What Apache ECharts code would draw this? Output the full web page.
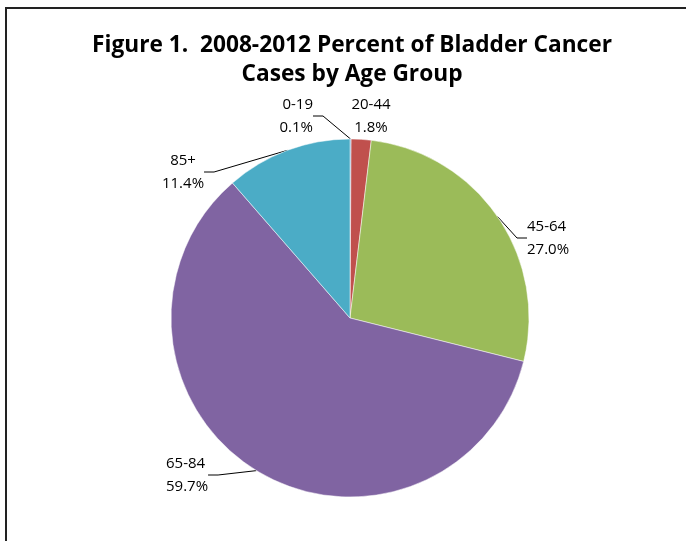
<!DOCTYPE html>
<html>
<head>
<meta charset="utf-8">
<script src="https://cdn.jsdelivr.net/npm/echarts@6/dist/echarts.min.js"></script>
<style>
  html, body { margin: 0; padding: 0; background: #fff; overflow: hidden; }
  #frame { position: absolute; left: 5px; top: 7px; width: 720px; height: 600px;
           border-left: 2px solid #222; border-top: 2px solid #222; box-sizing: border-box; }
  #chart { position: absolute; left: 0; top: 0; width: 686px; height: 541px; }
</style>
</head>
<body>
<div id="frame"></div>
<div id="chart"></div>
<script>
// Age groups and their share of bladder cancer cases, 2008-2012 (percent)
const ageGroups = ['0-19', '20-44', '45-64', '65-84', '85+'];
const percentCases = [0.1, 1.8, 27.0, 59.7, 11.4];
const sliceColors = ['#4F81BD', '#C0504D', '#9BBB59', '#8064A2', '#4BACC6'];

// Anchor of each two-line label block (x by alignment, y = top of text)
const labelSpots = {
  '0-19':  { x: 313, y: 93,  align: 'right' },
  '20-44': { x: 371, y: 93,  align: 'center' },
  '45-64': { x: 527, y: 215, align: 'left' },
  '65-84': { x: 166, y: 452, align: 'left' },
  '85+':   { x: 183, y: 149, align: 'center' }
};

const chart = echarts.init(document.getElementById('chart'), null, { renderer: 'canvas' });

chart.setOption({
  animation: false,
  title: {
    text: 'Figure 1.  2008-2012 Percent of Bladder Cancer\nCases by Age Group',
    left: 347,
    textAlign: 'center',
    top: 26,
    textStyle: {
      fontFamily: 'Open Sans',
      fontWeight: 'bold',
      fontSize: 22.7,
      lineHeight: 29,
      color: '#000'
    }
  },
  series: [{
    type: 'pie',
    center: [350, 318],
    radius: 179,
    startAngle: 90,
    clockwise: true,
    avoidLabelOverlap: false,
    data: ageGroups.map((name, i) => ({
      name,
      value: percentCases[i],
      itemStyle: { color: sliceColors[i] },
      labelLine: { show: name !== '20-44' }
    })),
    itemStyle: { borderColor: '#fff', borderWidth: 0.5 },
    label: {
      show: true,
      formatter: p => p.name + '\n' + p.value.toFixed(1) + '%',
      fontFamily: 'Open Sans',
      fontSize: 15,
      lineHeight: 23,
      color: '#000'
    },
    labelLine: {
      show: true,
      length: 10,
      length2: 10,
      lineStyle: { color: '#000', width: 1 }
    },
    labelLayout: params => {
      const spot = labelSpots[ageGroups[params.dataIndex]];
      return { x: spot.x, y: spot.y, align: spot.align, verticalAlign: 'top', moveOverlap: false };
    }
  }]
});
</script>
</body>
</html>
